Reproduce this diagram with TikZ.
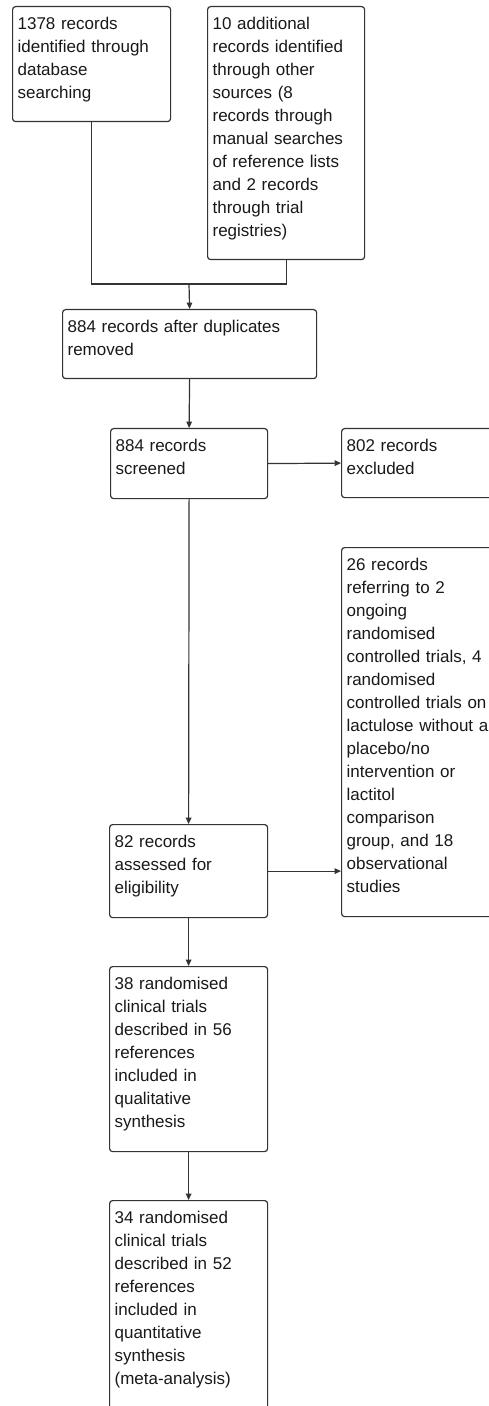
\documentclass[tikz,border=0pt]{standalone}
\usepackage{fontspec}
\setmainfont{Liberation Sans}
\usetikzlibrary{arrows.meta}

\tikzset{
		recbox/.style = {shape=rectangle, rounded corners=1.5pt,
				draw=black!80, line width=0.6pt, anchor=north west,
				align=left, inner xsep=2.5pt, inner ysep=0pt,
				text height=11.3pt, text=black!90,
				font=\fontsize{8.5pt}{11.5pt}\selectfont},
		flow/.style   = {draw=black!80, line width=0.6pt,
				-{Triangle[length=3.2pt,width=2.8pt]}}
	}

\begin{document}
\begin{tikzpicture}
		[x = 0.5pt, y = -0.5pt]
		\path[use as bounding box, fill=white] (0,0) rectangle (488,1406);
		% identification
		\node (ident) [recbox, text width=74pt, text depth=46.2pt] at (12,6)
			{1378 records\\identified through\\database\\searching};
		\node (other) [recbox, text width=73.5pt, text depth=115.2pt] at (207,6)
			{10 additional\\records identified\\through other\\sources (8\\records through\\manual searches\\of reference lists\\and 2 records\\through trial\\registries)};
		% screening
		\node (dedup) [recbox, text width=122pt, text depth=23.2pt] at (62,309)
			{884 records after duplicates\\removed};
		\node (screen) [recbox, text width=73.5pt, text depth=23.7pt] at (110,428)
			{884 records\\screened};
		\node (excl) [recbox, text width=73.5pt, text depth=23.2pt] at (341,428)
			{802 records\\excluded};
		% eligibility
		\node (oexcl) [recbox, text width=73.5pt, text depth=173.2pt] at (341,547)
			{26 records\\referring to 2\\ongoing\\randomised\\controlled trials, 4\\randomised\\controlled trials on\\lactulose without a\\placebo/no\\intervention or\\lactitol\\comparison\\group, and 18\\observational\\studies};
		\node (assess) [recbox, text width=74pt, text depth=35.2pt] at (109,824)
			{82 records\\assessed for\\eligibility};
		% included
		\node (qual) [recbox, text width=74pt, text depth=81.2pt] at (109,966)
			{38 randomised\\clinical trials\\described in 56\\references\\included in\\qualitative\\synthesis};
		\node (quant) [recbox, text width=74pt, text depth=108pt] at (109,1200)
			{34 randomised\\clinical trials\\described in 52\\references\\included in\\quantitative\\synthesis\\(meta-analysis)};

		\coordinate (merge) at (189,284);
		\draw[draw=black!80, line width=0.6pt] (ident.south) |- (merge) -| (other.south);
		\draw[flow] (merge) -- (dedup.north);
		\draw[flow] (dedup.south) -- (screen.north);
		\draw[flow] (screen.east) -- (excl.west);
		\draw[flow] (screen.south) -- (assess.north);
		\draw[flow] (assess.east) -- (assess.east -| oexcl.west);
		\draw[flow] (assess.south) -- (qual.north);
		\draw[flow] (qual.south) -- (quant.north);
	\end{tikzpicture}
\end{document}
